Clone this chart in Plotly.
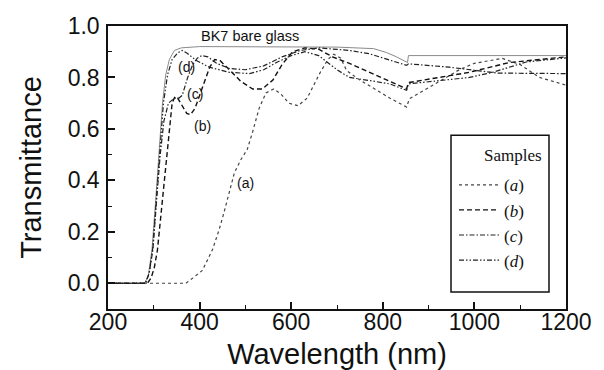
import plotly.graph_objects as go

# ---- data ----
wl_bare = [200, 280, 288, 296, 304, 312, 319, 326, 334, 345, 360, 400, 600, 700, 780, 808, 830, 854, 856, 1200]
t_bare = [0, 0, 0.03, 0.13, 0.32, 0.53, 0.70, 0.81, 0.87, 0.905, 0.915, 0.92, 0.92, 0.918, 0.912, 0.897, 0.88, 0.858, 0.885, 0.885]

wl_a = [200, 370, 385, 406, 428, 443, 454, 465, 476, 490, 504, 516, 530, 545, 562, 578, 595, 615, 635, 662, 680, 693, 708, 721, 750, 778, 815, 852, 858, 900, 967, 1000, 1061, 1100, 1142, 1200]
t_a = [0, 0, 0.02, 0.05, 0.13, 0.21, 0.28, 0.36, 0.43, 0.48, 0.52, 0.59, 0.68, 0.74, 0.755, 0.735, 0.70, 0.69, 0.72, 0.815, 0.87, 0.89, 0.875, 0.827, 0.79, 0.76, 0.72, 0.685, 0.717, 0.76, 0.83, 0.855, 0.874, 0.85, 0.80, 0.77]

wl_b = [200, 286, 294, 301, 308, 314, 319, 326, 333, 340, 346, 352, 362, 372, 380, 390, 400, 412, 422, 433, 445, 465, 490, 516, 537, 560, 580, 603, 630, 660, 690, 727, 771, 815, 852, 856, 989, 1076, 1200]
t_b = [0, 0, 0.02, 0.06, 0.13, 0.24, 0.32, 0.46, 0.60, 0.70, 0.725, 0.72, 0.69, 0.66, 0.655, 0.68, 0.73, 0.79, 0.84, 0.87, 0.865, 0.83, 0.785, 0.755, 0.755, 0.79, 0.85, 0.90, 0.915, 0.91, 0.88, 0.855, 0.82, 0.788, 0.756, 0.78, 0.82, 0.858, 0.88]

wl_c = [200, 282, 290, 298, 306, 314, 322, 332, 345, 355, 362, 374, 385, 395, 405, 418, 437, 465, 500, 540, 580, 620, 660, 700, 727, 771, 815, 852, 856, 945, 1000, 1050, 1200]
t_c = [0, 0, 0.04, 0.13, 0.32, 0.50, 0.63, 0.70, 0.72, 0.72, 0.73, 0.80, 0.85, 0.875, 0.885, 0.88, 0.855, 0.835, 0.83, 0.845, 0.88, 0.905, 0.915, 0.91, 0.905, 0.892, 0.866, 0.847, 0.853, 0.84, 0.828, 0.817, 0.815]

wl_d = [200, 282, 290, 298, 306, 314, 321, 330, 340, 352, 362, 372, 393, 421, 465, 509, 540, 570, 600, 630, 660, 700, 727, 771, 815, 852, 856, 989, 1040, 1113, 1200]
t_d = [0, 0, 0.04, 0.14, 0.34, 0.54, 0.70, 0.81, 0.87, 0.895, 0.905, 0.895, 0.866, 0.84, 0.82, 0.815, 0.83, 0.86, 0.885, 0.90, 0.885, 0.83, 0.80, 0.788, 0.775, 0.75, 0.775, 0.80, 0.82, 0.86, 0.876]

x_ticks = [200, 400, 600, 800, 1000, 1200]
y_ticks = [0.0, 0.2, 0.4, 0.6, 0.8, 1.0]

labels = [("BK7 bare glass", 511, 0.963), ("(d)", 371, 0.84), ("(c)", 389, 0.734), ("(b)", 406, 0.61), ("(a)", 500, 0.388)]

# page body has an 8px margin: size the figure so the plot lands where the reference has it
W, H, OFF = 596, 362, 8
L, R, T, B = 108 - OFF, 38, 25.5 - OFF, 61
pw, ph = W - L - R, H - T - B


def px_to_paper(xp, yp):
    return (xp - OFF - L) / pw, 1 - (yp - OFF - T) / ph


serif = "Liberation Serif, Times New Roman, serif"
sans = "Liberation Sans, Arial, sans-serif"

fig = go.Figure()
fig.add_trace(go.Scatter(x=wl_bare, y=t_bare, mode="lines", showlegend=False,
                         line=dict(color="#8a8a8a", width=1)))
series = [("a", wl_a, t_a, dict(color="#444", width=1.2, dash="dot")),
          ("b", wl_b, t_b, dict(color="#111", width=1.4, dash="5px,3px")),
          ("c", wl_c, t_c, dict(color="#222", width=1.2, dash="5px,2px,1.5px,2px")),
          ("d", wl_d, t_d, dict(color="#222", width=1.2, dash="5px,2px,1.5px,2px,1.5px,2px"))]
for key, xs, ys, ln in series:
    fig.add_trace(go.Scatter(x=xs, y=ys, mode="lines", name="(<i>%s</i>)" % key,
                             legendgroup=key, line=ln))

for txt, xv, yv in labels:
    fig.add_annotation(x=xv, y=yv, text=txt, showarrow=False,
                       font=dict(family=sans, size=14.5 if txt.startswith("BK7") else 14, color="#111"))

# legend frame and heading
x0, y0 = px_to_paper(451, 135)
x1, y1 = px_to_paper(549, 292)
fig.add_shape(type="rect", xref="paper", yref="paper", x0=x0, y0=y1, x1=x1, y1=y0,
              line=dict(color="#111", width=1.5), fillcolor="rgba(0,0,0,0)", layer="above")
sx, sy = px_to_paper(544, 155)
fig.add_annotation(xref="paper", yref="paper", x=sx, y=sy, text="Samples", showarrow=False,
                   xanchor="right", yanchor="middle", font=dict(family=serif, size=17, color="#111"))
lx, ly = px_to_paper(454, 167)

axis_font = dict(family=sans, size=23, color="#111")
fig.update_xaxes(range=[200, 1200], tickvals=x_ticks, ticktext=[str(v) for v in x_ticks],
                 ticks="inside", ticklen=7, tickwidth=1.5, tickcolor="#111",
                 minor=dict(dtick=100, ticks="inside", ticklen=4, tickcolor="#111", tickwidth=1),
                 showline=True, linecolor="#111", linewidth=1.5, mirror=True,
                 showgrid=False, zeroline=False, tickfont=axis_font, ticklabelstandoff=-8,
                 automargin=False,
                 title=dict(text="Wavelength (nm)", font=dict(family=sans, size=29, color="#111"), standoff=14))
fig.update_yaxes(range=[-0.1, 1.0], tickvals=y_ticks, ticktext=["%.1f" % v for v in y_ticks],
                 ticks="inside", ticklen=7, tickwidth=1.5, tickcolor="#111",
                 minor=dict(tickvals=[-0.1 + 0.2 * i for i in range(6)], ticks="inside", ticklen=4, tickcolor="#111", tickwidth=1),
                 showline=True, linecolor="#111", linewidth=1.5, mirror=True,
                 showgrid=False, zeroline=False, tickfont=axis_font, ticklabelstandoff=2,
                 automargin=False,
                 title=dict(text="Transmittance", font=dict(family=sans, size=29, color="#111"), standoff=18))

fig.update_layout(
    width=W, height=H,
    margin=dict(l=L, r=R, t=T, b=B),
    plot_bgcolor="white", paper_bgcolor="white",
    legend=dict(x=lx, y=ly, xanchor="left", yanchor="top",
                borderwidth=0, bgcolor="rgba(0,0,0,0)",
                font=dict(family=serif, size=17, color="#111"),
                tracegroupgap=0, itemwidth=40),
)

fig.write_html("out.html")
